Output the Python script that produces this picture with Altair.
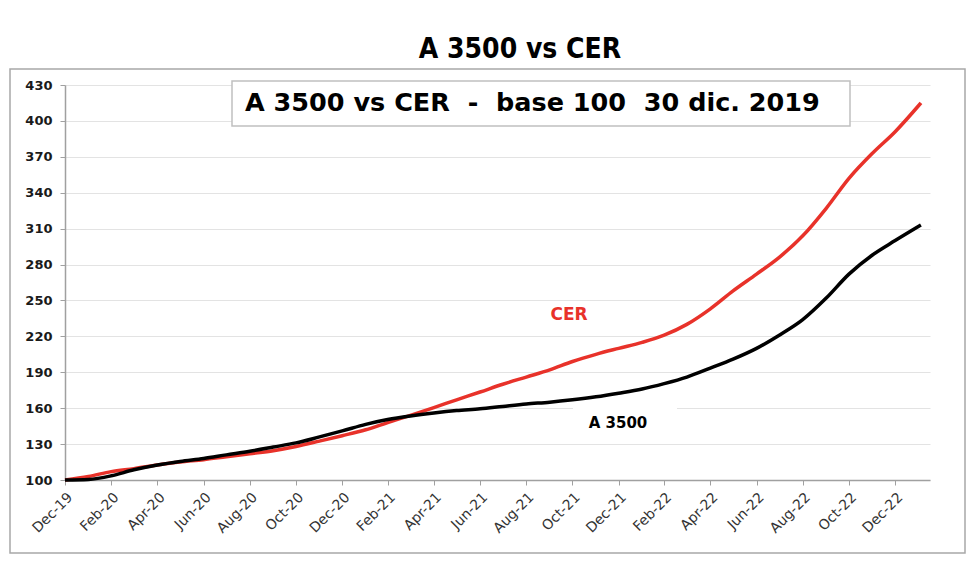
import altair as alt
import pandas as pd

# ---- data ----
dates = [
    "2019-12-30", "2020-01-30", "2020-02-29", "2020-03-30", "2020-04-30", "2020-05-30",
    "2020-06-30", "2020-07-30", "2020-08-30", "2020-09-30", "2020-10-30", "2020-11-30",
    "2020-12-30", "2021-01-30", "2021-02-28", "2021-03-30", "2021-04-30", "2021-05-30",
    "2021-06-30", "2021-07-30", "2021-08-30", "2021-09-30", "2021-10-30", "2021-11-30",
    "2021-12-30", "2022-01-30", "2022-02-28", "2022-03-30", "2022-04-30", "2022-05-30",
    "2022-06-30", "2022-07-30", "2022-08-30", "2022-09-30", "2022-10-30", "2022-11-30",
    "2022-12-30", "2023-02-02",
]
cer = [
    100, 103, 107, 109.5, 112.5, 115,
    117, 119.5, 122, 124.5, 128, 132.5,
    137, 142, 148, 154, 160.5, 167,
    173.5, 180, 186, 192, 199, 205,
    210, 215, 221, 230, 243, 258,
    272, 286, 304, 327, 352, 373,
    391, 415,
]
a3500 = [
    100, 100.5, 103.5, 108.5, 112.5, 115.5,
    118, 121, 124, 127.5, 131, 136,
    141, 146.5, 150.5, 153.5, 156, 158,
    159.5, 161.5, 163.5, 165, 167, 169.5,
    172.5, 176, 180.5, 186, 193.5, 201,
    210, 221, 234, 252, 272, 288,
    300, 313,
]
series_names = ["CER", "A 3500"]
series_colors = ["#e8322a", "#000000"]

tick_dates = [
    (2019, 12, 30), (2020, 2, 29), (2020, 4, 30), (2020, 6, 30), (2020, 8, 30),
    (2020, 10, 30), (2020, 12, 30), (2021, 2, 28), (2021, 4, 30), (2021, 6, 30),
    (2021, 8, 30), (2021, 10, 30), (2021, 12, 30), (2022, 2, 28), (2022, 4, 30),
    (2022, 6, 30), (2022, 8, 30), (2022, 10, 30), (2022, 12, 30),
]
y_ticks = [100, 130, 160, 190, 220, 250, 280, 310, 340, 370, 400, 430]

title_text = "A 3500 vs CER"
subtitle_text = "A 3500 vs CER\u00a0\u00a0-\u00a0\u00a0base 100\u00a0\u00a030 dic. 2019"

# ---- build table ----
rows = []
for d, c, a in zip(dates, cer, a3500):
    rows.append({"date": d + "T00:00:00", "serie": "CER", "valor": c})
    rows.append({"date": d + "T00:00:00", "serie": "A 3500", "valor": a})
df = pd.DataFrame(rows)

W, H = 865, 395
FONT = "DejaVu Sans"
NARROW = "Liberation Sans Narrow, DejaVu Sans Condensed, Roboto Condensed, Roboto, sans-serif"

x_scale = alt.Scale(
    domain=[alt.DateTime(year=2019, month=12, date=30), alt.DateTime(year=2023, month=2, date=14)]
)
y_scale = alt.Scale(domain=[100, 430], nice=False, zero=False)

x_axis = alt.Axis(
    values=[alt.DateTime(year=y, month=m, date=d) for (y, m, d) in tick_dates],
    format="%b-%y", labelAngle=315, labelAlign="right", labelBaseline="top",
    labelFont=FONT, labelFontSize=14, labelColor="#333333", labelPadding=5,
    tickSize=5, tickColor="#a0a0a0", domainColor="#a0a0a0", domainWidth=1.5,
    grid=False, title=None, labelOverlap=False, labelFlush=False,
)
y_axis = alt.Axis(
    values=y_ticks, labelFont=FONT, labelFontSize=13, labelFontWeight="bold",
    labelColor="#1a1a1a", labelPadding=8, tickSize=5, tickColor="#a0a0a0",
    domainColor="#a0a0a0", domainWidth=1.5, grid=True, gridColor="#e3e3e3",
    gridWidth=1.2, title=None,
)

one = pd.DataFrame({"k": [0]})

# decorations (outer chart frame, subtitle box, label background)
frame = alt.Chart(one).mark_rect(
    fillOpacity=0, stroke="#a8a8a8", strokeWidth=1.5
).encode(x=alt.value(-55), x2=alt.value(900), y=alt.value(-16), y2=alt.value(468))

sub_box = alt.Chart(one).mark_rect(
    fill="white", stroke="#c0c0c0", strokeWidth=1.5
).encode(x=alt.value(167), x2=alt.value(785), y=alt.value(-4), y2=alt.value(41))

label_bg = alt.Chart(one).mark_rect(fill="white").encode(
    x=alt.value(508), x2=alt.value(612), y=alt.value(319), y2=alt.value(352)
)

lines = alt.Chart(df).mark_line(strokeWidth=3.5, interpolate="monotone").encode(
    x=alt.X("date:T", scale=x_scale, axis=x_axis),
    y=alt.Y("valor:Q", scale=y_scale, axis=y_axis),
    color=alt.Color("serie:N", scale=alt.Scale(domain=series_names, range=series_colors), legend=None),
)

title = alt.Chart(pd.DataFrame({"t": [title_text]})).mark_text(
    font=NARROW, fontSize=28, fontWeight="bold", color="#000000",
    align="center", baseline="middle",
).encode(x=alt.value(455), y=alt.value(-35), text="t:N")

subtitle = alt.Chart(pd.DataFrame({"t": [subtitle_text]})).mark_text(
    font=FONT, fontSize=25.5, fontWeight="bold", color="#000000",
    align="left", baseline="middle",
).encode(x=alt.value(180), y=alt.value(18), text="t:N")

cer_label = alt.Chart(pd.DataFrame({"t": [series_names[0]]})).mark_text(
    font=FONT, fontSize=17, fontWeight="bold", color=series_colors[0],
    align="center", baseline="middle",
).encode(x=alt.value(504), y=alt.value(230), text="t:N")

a_label = alt.Chart(pd.DataFrame({"t": [series_names[1]]})).mark_text(
    font=FONT, fontSize=15, fontWeight="bold", color=series_colors[1],
    align="center", baseline="middle",
).encode(x=alt.value(553), y=alt.value(338), text="t:N")

chart = alt.layer(
    frame, label_bg, lines, sub_box, subtitle, title, cer_label, a_label
).properties(
    width=W, height=H,
    autosize=alt.AutoSizeParams(type="none"),
    padding={"left": 57, "top": 77, "right": 42, "bottom": 74},
    background="white",
).configure_view(stroke="transparent")

chart.save("out.html", embed_options={"renderer": "svg", "actions": False})
